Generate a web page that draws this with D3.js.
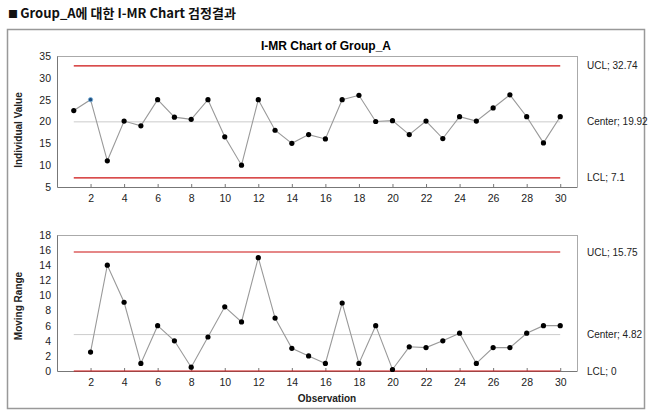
<!DOCTYPE html>
<html><head><meta charset="utf-8">
<script src="https://cdn.jsdelivr.net/npm/d3@7"></script>
<style>body{margin:0;background:#fff;}svg{display:block;font-family:"Liberation Sans",Arial,sans-serif;}</style>
</head><body><svg id="c" width="650" height="415"></svg>
<script>
const observations = d3.range(1, 31);
const individualValues = [22.5, 25, 11, 20.1, 19, 25, 21, 20.5, 25, 16.5, 10, 25, 18, 15, 17, 16, 25, 26, 20, 20.2, 17, 20.1, 16.1, 21.1, 20.1, 23.1, 26.1, 21.1, 15.1, 21.1];
const movingRangeObs = d3.range(2, 31);
const movingRanges = [2.5, 14, 9.1, 1, 6, 4, 0.5, 4.5, 8.5, 6.5, 15, 7, 3, 2, 1, 9, 1, 6, 0.2, 3.2, 3.1, 4, 5, 1, 3.1, 3.1, 5, 6, 6];
const iLimits = {ucl: 32.74, center: 19.92, lcl: 7.1};
const mrLimits = {ucl: 15.75, center: 4.82, lcl: 0};
const iTicks = [5, 10, 15, 20, 25, 30, 35];
const mrTicks = [0, 2, 4, 6, 8, 10, 12, 14, 16, 18];
const xTicks = d3.range(2, 31, 2);
const highlighted = [2];

const svg = d3.select("#c");
const hdr = svg.append("text").attr("x", 8).attr("y", 18)
  .style("font-family", "'Noto Sans CJK KR','Liberation Sans',sans-serif")
  .style("font-weight", "bold").attr("fill", "#111");
hdr.append("tspan").style("font-size", "10px").text("■ ");
hdr.append("tspan").style("font-size", "13px").text("Group_A에 대한 I-MR Chart 검정결과");
svg.append("rect").attr("x", 7.5).attr("y", 29.5).attr("width", 637).attr("height", 379)
  .attr("fill", "none").attr("stroke", "#999").attr("stroke-width", 1.5);
svg.append("text").attr("x", 326).attr("y", 50).attr("text-anchor", "middle")
  .style("font-weight", "bold").style("font-size", "12px").text("I-MR Chart of Group_A");

const left = 57, right = 577;
const x = d3.scaleLinear().domain([0, 31]).range([left, right]);

function panel(top, bottom, yDomain, yTicks, xs, vals, lim, yTitle, titleY, hl) {
  const y = d3.scaleLinear().domain(yDomain).range([bottom, top]);
  const g = svg.append("g");
  g.append("line").attr("x1", left).attr("x2", right).attr("y1", top + .5).attr("y2", top + .5).attr("stroke", "#aaa");
  g.append("line").attr("x1", right + .5).attr("x2", right + .5).attr("y1", top).attr("y2", bottom).attr("stroke", "#aaa");
  const ya = g.append("g").attr("transform", `translate(${left},0)`)
    .call(d3.axisLeft(y).tickValues(yTicks).tickSize(0).tickPadding(6));
  ya.select(".domain").attr("stroke", "#777");
  ya.selectAll("text").style("font-size", "10.5px").attr("fill", "#222").style("font-family", "'Liberation Sans',Arial,sans-serif");
  const xa = g.append("g").attr("transform", `translate(0,${bottom})`)
    .call(d3.axisBottom(x).tickValues(xTicks).tickSizeInner(-3).tickSizeOuter(0).tickPadding(8));
  xa.select(".domain").attr("stroke", "#777");
  xa.selectAll(".tick line").attr("stroke", "#777");
  xa.selectAll("text").style("font-size", "10.5px").attr("fill", "#222").style("font-family", "'Liberation Sans',Arial,sans-serif");
  const x0 = x(1), x1 = x(30);
  g.append("line").attr("x1", x0).attr("x2", x1).attr("y1", y(lim.center)).attr("y2", y(lim.center)).attr("stroke", "#ccc").attr("stroke-width", 1);
  [lim.ucl, lim.lcl].forEach(v => g.append("line").attr("x1", x0).attr("x2", x1).attr("y1", y(v)).attr("y2", y(v)).attr("stroke", "#cc1111").attr("stroke-width", 1.2));
  [["UCL; ", lim.ucl], ["Center; ", lim.center], ["LCL; ", lim.lcl]].forEach(([t, v]) =>
    g.append("text").attr("x", 587).attr("y", y(v)).attr("dy", "0.35em").style("font-size", "10px").attr("fill", "#222").text(t + v));
  const pts = xs.map((o, i) => [o, vals[i]]);
  g.append("path").datum(pts).attr("fill", "none").attr("stroke", "#999").attr("stroke-width", 1.1)
    .attr("d", d3.line().x(d => x(d[0])).y(d => y(d[1])));
  g.selectAll("circle").data(pts).join("circle").attr("cx", d => x(d[0])).attr("cy", d => y(d[1]))
    .attr("r", d => hl.includes(d[0]) ? 2.2 : 2.6)
    .attr("fill", d => hl.includes(d[0]) ? "#1d4f80" : "#000")
    .attr("stroke", d => hl.includes(d[0]) ? "#7fb6e0" : "none").attr("stroke-width", 0.8);
  g.append("text").attr("transform", `translate(22,${titleY}) rotate(-90)`).attr("text-anchor", "middle")
    .style("font-weight", "bold").style("font-size", "10px").attr("fill", "#222").text(yTitle);
}

panel(56, 187, [5, 35], iTicks, observations, individualValues, iLimits, "Individual Value", 130, highlighted);
panel(235, 371, [0, 18], mrTicks, movingRangeObs, movingRanges, mrLimits, "Moving Range", 306, []);

svg.append("text").attr("x", 327).attr("y", 402).attr("text-anchor", "middle")
  .style("font-weight", "bold").style("font-size", "10px").attr("fill", "#222").text("Observation");
</script></body></html>
